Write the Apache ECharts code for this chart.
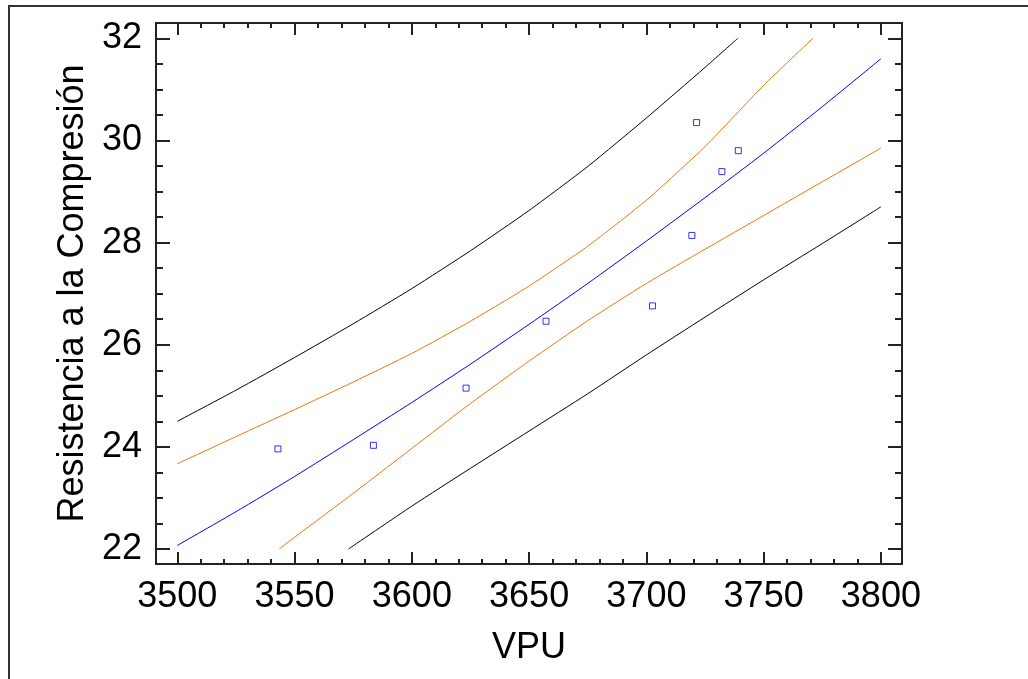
<!DOCTYPE html>
<html><head><meta charset="utf-8">
<script src="https://cdn.jsdelivr.net/npm/echarts@6/dist/echarts.min.js"></script>
<style>html,body{margin:0;padding:0;background:#fff}#c{width:1028px;height:679px}</style>
</head><body><div id="c"></div>
<script>
// ---- data ----
const xAxisTitle = 'VPU';
const yAxisTitle = 'Resistencia a la Compresión';
const xMajorTicks = [3500, 3550, 3600, 3650, 3700, 3750, 3800];
const xMinorTicks = [3500,3510,3520,3530,3540,3550,3560,3570,3580,3590,3600,3610,3620,3630,3640,3650,3660,3670,3680,3690,3700,3710,3720,3730,3740,3750,3760,3770,3780,3790,3800];
const yMajorTicks = [22, 24, 26, 28, 30, 32];
const yMinorTicks = [22,22.5,23,23.5,24,24.5,25,25.5,26,26.5,27,27.5,28,28.5,29,29.5,30,30.5,31,31.5,32];

const obsVPU = [3542.9, 3583.6, 3623.1, 3657.2, 3702.6, 3719.4, 3721.4, 3732.2, 3739.2];
const obsRes = [23.96, 24.03, 25.15, 26.46, 26.76, 28.14, 30.35, 29.39, 29.80];

const fitX = [3500, 3525, 3550, 3575, 3600, 3625, 3650, 3675, 3700, 3725, 3750, 3775, 3800];
const fitY = [22.07, 22.73, 23.42, 24.14, 24.87, 25.62, 26.40, 27.20, 28.03, 28.88, 29.75, 30.66, 31.60];

const confUpX = [3500, 3525, 3550, 3575, 3600, 3625, 3650, 3675, 3700, 3725, 3750, 3771];
const confUpY = [23.67, 24.20, 24.73, 25.27, 25.83, 26.46, 27.15, 27.93, 28.83, 29.88, 31.08, 32.0];

const confLoX = [3543.5, 3550, 3575, 3600, 3625, 3650, 3675, 3700, 3725, 3750, 3775, 3800];
const confLoY = [22.0, 22.23, 23.09, 23.97, 24.85, 25.68, 26.47, 27.20, 27.87, 28.53, 29.19, 29.85];

const predUpX = [3500, 3525, 3550, 3575, 3600, 3625, 3650, 3675, 3700, 3725, 3739];
const predUpY = [24.50, 25.11, 25.75, 26.41, 27.10, 27.84, 28.63, 29.49, 30.44, 31.43, 32.0];

const predLoX = [3573, 3600, 3625, 3650, 3675, 3700, 3725, 3750, 3775, 3800];
const predLoY = [22.0, 22.84, 23.58, 24.31, 25.04, 25.80, 26.54, 27.27, 27.98, 28.70];

// ---- layout / style ----
const X_MIN = 3490.9, X_MAX = 3809.0, Y_MIN = 21.706, Y_MAX = 32.30;
const FONT = "'Liberation Sans', Arial, sans-serif";
const AX = '#222';
const zip = (xs, ys) => xs.map((x, i) => [x, ys[i]]);
const gridRect = {left: 156, top: 23, right: 126, bottom: 115, containLabel: false};

function xAx(grid, pos, ticks, len, major, extra) {
  return Object.assign({
    type: 'value', gridIndex: grid, position: pos, min: X_MIN, max: X_MAX,
    axisLine: {show: major, onZero: false, lineStyle: {color: AX, width: 2}},
    axisTick: {show: true, inside: true, length: len, customValues: ticks, lineStyle: {color: AX, width: 2}},
    axisLabel: {show: false},
    splitLine: {show: false}
  }, extra || {});
}
function yAx(grid, pos, ticks, len, major, extra) {
  return Object.assign({
    type: 'value', gridIndex: grid, position: pos, min: Y_MIN, max: Y_MAX,
    axisLine: {show: major, onZero: false, lineStyle: {color: AX, width: 2}},
    axisTick: {show: true, inside: true, length: len, customValues: ticks, lineStyle: {color: AX, width: 2}},
    axisLabel: {show: false},
    splitLine: {show: false}
  }, extra || {});
}
const plain = v => String(v);
const lineSeries = (xs, ys, color) => ({
  type: 'line', xAxisIndex: 0, yAxisIndex: 0, data: zip(xs, ys),
  showSymbol: false, smooth: 0.2, lineStyle: {color: color, width: 1}
});

const chart = echarts.init(document.getElementById('c'), null, {renderer: 'canvas'});
chart.setOption({
  animation: false,
  backgroundColor: '#fff',
  grid: [Object.assign({}, gridRect), Object.assign({}, gridRect)],
  xAxis: [
    xAx(0, 'bottom', xMajorTicks, 12, true, {
      axisLabel: {show: true, customValues: xMajorTicks, formatter: plain, fontSize: 36, color: '#000', margin: 15, fontFamily: FONT},
      name: xAxisTitle, nameLocation: 'middle', nameGap: 66,
      nameTextStyle: {fontSize: 36, color: '#000', fontFamily: FONT}
    }),
    xAx(0, 'top', xMajorTicks, 12, true),
    xAx(1, 'bottom', xMinorTicks, 5, false),
    xAx(1, 'top', xMinorTicks, 5, false)
  ],
  yAxis: [
    yAx(0, 'left', yMajorTicks, 14, true, {
      axisLabel: {show: true, customValues: yMajorTicks, formatter: plain, fontSize: 36, color: '#000', margin: 14, fontFamily: FONT},
      name: yAxisTitle, nameLocation: 'middle', nameGap: 62,
      nameTextStyle: {fontSize: 36, color: '#000', fontFamily: FONT}
    }),
    yAx(0, 'right', yMajorTicks, 14, true),
    yAx(1, 'left', yMinorTicks, 7, false),
    yAx(1, 'right', yMinorTicks, 7, false)
  ],
  graphic: [{
    type: 'rect', silent: true, z: 100,
    shape: {x: 9, y: 6, width: 1200, height: 900},
    style: {fill: 'none', stroke: '#333', lineWidth: 2}
  }],
  series: [
    lineSeries(predUpX, predUpY, '#000'),
    lineSeries(predLoX, predLoY, '#000'),
    lineSeries(confUpX, confUpY, '#e8780e'),
    lineSeries(confLoX, confLoY, '#e8780e'),
    lineSeries(fitX, fitY, '#0000ff'),
    {type: 'scatter', xAxisIndex: 0, yAxisIndex: 0, data: zip(obsVPU, obsRes), symbol: 'rect', symbolSize: 6,
     itemStyle: {color: 'rgba(255,255,255,0)', borderColor: '#0000ff', borderWidth: 1}}
  ]
});
</script>
</body></html>
